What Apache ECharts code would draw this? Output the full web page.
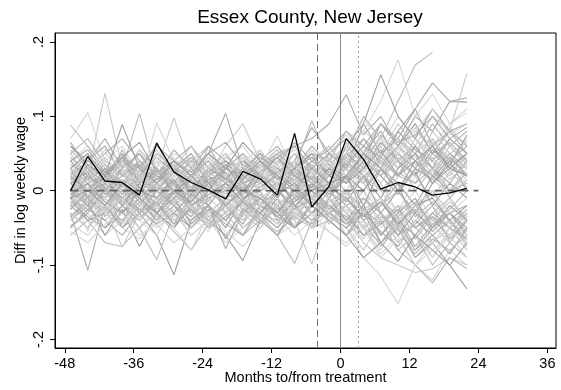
<!DOCTYPE html>
<html>
<head>
<meta charset="utf-8">
<script src="https://cdn.jsdelivr.net/npm/echarts@6/dist/echarts.min.js"></script>
<style>
  html, body { margin: 0; padding: 0; background: #fff; }
  #chart { width: 561px; height: 390px; }
</style>
</head>
<body>
<div id="chart"></div>
<script>
// months relative to treatment (quarterly observations)
var months = [-47, -44, -41, -38, -35, -32, -29, -26, -23, -20, -17, -14,
  -11, -8, -5, -2, 1, 4, 7, 10, 13, 16, 19, 22];

// Essex County, NJ (treated)
var treated = [0, 0.046, 0.013, 0.011, -0.006, 0.064, 0.025, 0.011, 0.001, -0.011,
  0.026, 0.016, -0.006, 0.077, -0.022, 0.006, 0.070, 0.042, 0.002, 0.011,
  0.005, -0.006, -0.003, 0.003];

// placebo counties
var placebos = [
  [0.045, 0.02, 0.131, 0.03, -0.01, 0.04, 0.005, 0.02, -0.015, 0.03, 0.01, -0.02, 0.015, 0.03, -0.01, 0.02, 0.04, 0.01, 0.05, 0.03, 0.06, 0.02, 0.04, 0.03],
  [-0.03, -0.107, -0.02, -0.045, 0.01, -0.03, -0.05, -0.01, -0.035, -0.02, 0.005, -0.04, -0.025, -0.01, -0.03, 0.0, -0.02, -0.05, -0.03, -0.06, -0.045, -0.02, -0.07, -0.04],
  [0.07, 0.105, 0.04, 0.06, 0.02, 0.05, 0.03, 0.045, 0.01, 0.035, 0.02, 0.04, 0.025, 0.05, 0.01, 0.03, 0.06, 0.04, 0.07, 0.05, 0.08, 0.06, 0.09, 0.105],
  [0.02, 0.05, 0.01, 0.03, 0.104, 0.02, 0.04, 0.0, 0.03, 0.015, 0.045, 0.01, 0.03, 0.02, 0.0, 0.025, 0.01, 0.05, 0.02, 0.04, 0.0, 0.03, 0.05, 0.02],
  [-0.01, -0.04, -0.02, -0.05, -0.03, -0.06, -0.113, -0.04, -0.02, -0.05, -0.01, -0.035, -0.06, -0.02, -0.04, -0.03, -0.05, -0.02, -0.07, -0.04, -0.08, -0.05, -0.03, -0.06],
  [0.03, 0.01, 0.04, 0.02, 0.05, 0.03, 0.098, 0.03, 0.05, 0.02, 0.04, 0.01, 0.03, 0.05, 0.02, 0.04, 0.03, 0.06, 0.04, 0.02, 0.05, 0.07, 0.03, 0.05],
  [0.0, 0.02, -0.01, 0.03, 0.01, 0.02, 0.04, 0.02, 0.05, 0.104, 0.03, 0.02, 0.01, 0.04, 0.0, 0.02, 0.03, 0.01, 0.045, 0.02, 0.06, 0.03, 0.01, 0.04],
  [0.04, 0.06, 0.02, 0.05, 0.01, 0.091, 0.04, 0.02, 0.035, 0.01, 0.05, 0.03, 0.02, 0.06, 0.03, 0.01, 0.05, 0.08, 0.06, 0.1, 0.07, 0.05, 0.085, 0.06],
  [-0.02, -0.01, -0.04, -0.02, -0.05, -0.093, -0.03, -0.05, -0.02, -0.04, -0.06, -0.03, -0.05, -0.02, -0.04, -0.01, -0.03, -0.06, -0.04, -0.08, -0.06, -0.1, -0.07, -0.09],
  [0.01, 0.03, 0.0, 0.02, 0.04, 0.01, 0.03, -0.01, 0.02, 0.0, 0.03, 0.05, 0.02, 0.04, 0.085, 0.05, 0.07, 0.04, 0.09, 0.06, 0.1, 0.08, 0.12, 0.119],
  [-0.03, -0.05, -0.02, -0.04, -0.01, -0.03, -0.05, -0.02, -0.04, -0.06, -0.03, -0.05, -0.02, -0.04, -0.099, -0.03, -0.05, -0.08, -0.04, -0.06, -0.03, -0.07, -0.05, -0.08],
  [0.02, 0.0, 0.03, 0.01, 0.04, 0.02, 0.0, 0.03, 0.01, 0.02, 0.04, 0.03, 0.05, 0.06, 0.07, 0.09, 0.129, 0.075, 0.1, 0.06, 0.09, 0.05, 0.08, 0.06],
  [0.0, 0.03, 0.01, -0.01, 0.02, 0.0, 0.03, 0.01, -0.01, 0.02, 0.0, 0.01, 0.03, 0.0, 0.02, 0.04, 0.06, 0.08, 0.12, 0.176, 0.1, 0.13, 0.09, 0.11],
  [0.01, -0.02, 0.02, 0.0, 0.03, -0.01, 0.01, 0.02, 0.0, -0.01, 0.02, 0.01, 0.0, 0.03, 0.01, 0.02, 0.05, 0.1, 0.07, 0.12, 0.169, 0.186, null, null],
  [-0.01, 0.01, 0.02, -0.02, 0.0, 0.02, 0.01, -0.01, 0.02, 0.0, 0.01, -0.02, 0.0, 0.02, 0.03, 0.01, 0.06, 0.09, 0.156, 0.1, 0.07, 0.11, 0.08, 0.09],
  [0.03, 0.0, 0.02, 0.04, 0.01, 0.03, 0.0, 0.02, 0.04, 0.01, 0.0, 0.02, 0.03, 0.01, 0.04, 0.02, 0.03, 0.07, 0.05, 0.09, 0.06, 0.1, 0.08, 0.158],
  [-0.02, 0.0, -0.01, 0.01, -0.03, 0.0, 0.01, -0.02, 0.0, 0.02, -0.01, 0.0, 0.01, -0.01, 0.02, 0.0, 0.02, 0.05, 0.03, 0.08, 0.11, 0.145, 0.12, 0.125],
  [-0.02, -0.04, -0.01, -0.03, -0.05, -0.02, -0.04, -0.01, -0.03, -0.02, -0.05, -0.03, -0.01, -0.04, -0.02, -0.03, -0.05, -0.09, -0.115, -0.152, -0.1, -0.12, -0.08, -0.1],
  [0.01, -0.01, 0.02, 0.0, -0.02, 0.01, -0.01, 0.0, 0.02, -0.01, 0.0, -0.02, 0.01, 0.0, -0.01, 0.0, -0.03, -0.06, -0.04, -0.08, -0.1, -0.124, -0.09, -0.105],
  [-0.04, -0.02, -0.05, -0.03, -0.01, -0.04, -0.02, -0.05, -0.03, -0.01, -0.04, -0.02, -0.03, -0.05, -0.02, -0.04, -0.06, -0.03, -0.07, -0.05, -0.09, -0.07, -0.1, -0.132],
  [-0.01, 0.01, -0.02, 0.0, -0.01, -0.03, 0.0, -0.02, -0.01, -0.03, 0.0, -0.01, -0.02, 0.0, -0.03, -0.02, -0.04, -0.07, -0.09, -0.1, -0.11, -0.105, -0.09, -0.1],
  [0.06, 0.04, 0.07, 0.03, 0.05, 0.02, 0.04, 0.06, 0.03, 0.05, 0.02, 0.04, 0.06, 0.03, 0.05, 0.04, 0.02, 0.05, 0.03, 0.06, 0.04, 0.02, 0.05, 0.03],
  [-0.05, -0.03, -0.06, -0.04, -0.02, -0.05, -0.03, -0.06, -0.04, -0.02, -0.05, -0.03, -0.04, -0.02, -0.05, -0.03, -0.02, -0.04, -0.06, -0.03, -0.05, -0.07, -0.04, -0.06],
  [0.088, 0.06, 0.03, 0.01, 0.02, 0.0, 0.03, 0.02, -0.01, 0.01, 0.03, 0.0, 0.02, 0.01, -0.01, 0.03, 0.02, 0.0, 0.04, 0.02, 0.01, 0.05, 0.03, 0.02],
  [-0.048, -0.03, 0.0, -0.02, -0.04, -0.015, 0.01, -0.03, -0.02, -0.04, -0.01, -0.03, 0.0, -0.02, -0.05, -0.01, 0.02, -0.03, -0.01, -0.04, -0.02, 0.0, -0.03, -0.05],
  [0.015, 0.035, 0.005, 0.045, 0.02, 0.065, 0.01, 0.03, 0.0, 0.04, 0.015, 0.055, 0.02, 0.01, 0.035, 0.005, 0.045, 0.025, 0.06, 0.03, 0.07, 0.04, 0.02, 0.05],
  [-0.02, 0.01, -0.035, -0.01, 0.005, -0.02, -0.045, -0.005, 0.015, -0.03, -0.01, 0.0, -0.04, -0.015, 0.01, -0.025, 0.0, -0.04, -0.02, 0.01, -0.05, -0.03, -0.01, -0.04],
  [0.0, -0.055, 0.02, -0.01, 0.03, -0.02, 0.01, 0.04, -0.01, 0.02, -0.03, 0.01, 0.035, -0.005, 0.02, 0.05, -0.01, 0.03, 0.0, -0.03, 0.02, 0.04, 0.0, 0.03],
  [0.025, 0.0, 0.01, 0.055, 0.015, -0.01, 0.02, 0.0, 0.06, 0.02, -0.005, 0.03, 0.045, 0.01, 0.025, -0.01, 0.035, 0.015, 0.05, 0.07, 0.04, 0.02, 0.06, 0.035],
  [-0.035, -0.015, -0.06, -0.025, -0.075, -0.03, -0.01, -0.045, -0.02, -0.065, -0.025, -0.04, -0.01, -0.05, -0.03, -0.02, -0.045, -0.03, -0.055, -0.075, -0.04, -0.06, -0.085, -0.05],
  [0.05, 0.02, 0.045, 0.01, 0.035, 0.055, 0.02, 0.04, 0.06, 0.015, 0.03, 0.05, 0.005, 0.04, 0.02, 0.03, 0.065, 0.04, 0.025, 0.055, 0.085, 0.05, 0.035, 0.07],
  [-0.01, -0.03, 0.005, -0.05, -0.02, 0.01, -0.015, -0.035, 0.0, -0.02, -0.045, -0.01, -0.03, 0.005, -0.02, -0.04, -0.06, -0.025, -0.045, -0.02, -0.065, -0.035, -0.05, -0.025],
  [0.03, 0.045, 0.06, 0.025, 0.04, 0.02, 0.05, 0.035, 0.015, 0.045, 0.06, 0.03, 0.04, 0.055, 0.025, 0.04, 0.02, 0.045, 0.07, 0.03, 0.05, 0.09, 0.06, 0.04],
  [-0.06, -0.04, -0.07, -0.075, -0.05, -0.03, -0.055, -0.08, -0.045, -0.03, -0.06, -0.04, -0.055, -0.035, -0.05, -0.04, -0.02, -0.05, -0.07, -0.045, -0.08, -0.06, -0.04, -0.07],
  [0.01, 0.025, -0.005, 0.015, 0.0, 0.03, 0.01, -0.01, 0.02, 0.035, 0.0, 0.015, 0.025, 0.005, 0.03, 0.01, 0.02, 0.0, 0.03, 0.01, -0.02, 0.02, 0.0, 0.01],
  [-0.005, 0.015, 0.035, 0.0, -0.02, 0.025, 0.005, 0.045, 0.015, -0.01, 0.02, 0.04, 0.0, 0.025, 0.01, 0.035, 0.055, 0.02, 0.04, 0.0, 0.03, 0.06, 0.025, 0.045],
  [0.02, -0.01, -0.03, 0.01, -0.015, -0.04, 0.0, -0.02, -0.05, -0.01, 0.015, -0.025, -0.045, -0.01, 0.0, -0.03, -0.01, -0.035, -0.015, -0.045, -0.025, -0.055, -0.03, -0.02],
  [0.0, 0.02, -0.01, 0.01, 0.03, 0.0, 0.02, -0.01, 0.01, 0.0, 0.02, 0.03, 0.074, 0.02, 0.05, 0.0, 0.03, -0.02, 0.01, -0.03, 0.0, -0.04, -0.01, 0.02],
  [0.01, -0.02, 0.0, -0.03, -0.01, 0.01, -0.02, 0.0, -0.04, -0.02, -0.05, -0.03, -0.06, -0.098, -0.04, -0.02, 0.0, -0.03, -0.01, -0.05, -0.02, -0.04, -0.06, -0.03],
  [0.02, 0.0, -0.02, 0.01, -0.01, -0.03, -0.05, -0.02, -0.04, -0.06, -0.094, -0.04, -0.02, -0.05, -0.03, -0.01, -0.04, -0.02, -0.06, -0.03, -0.01, -0.05, -0.02, -0.04],
  [0.0, 0.03, 0.01, 0.04, 0.02, 0.0, 0.03, 0.05, 0.02, 0.06, 0.09, 0.04, 0.02, 0.05, 0.03, 0.01, 0.04, 0.06, 0.03, 0.05, 0.02, 0.07, 0.04, 0.06],
  [0.065, 0.03, 0.05, 0.07, 0.04, 0.02, 0.055, 0.03, 0.06, 0.04, 0.025, 0.05, 0.035, 0.065, 0.04, 0.055, 0.08, 0.06, 0.09, 0.065, 0.075, 0.1, 0.07, 0.085],
  [-0.045, -0.06, -0.03, -0.05, -0.065, -0.04, -0.025, -0.06, -0.04, -0.07, -0.05, -0.035, -0.06, -0.045, -0.03, -0.055, -0.075, -0.05, -0.09, -0.065, -0.1, -0.08, -0.06, -0.09],
  [0.005, -0.015, 0.02, -0.005, 0.01, -0.02, 0.0, 0.015, -0.01, 0.005, -0.025, 0.0, 0.01, -0.015, 0.005, -0.01, -0.03, -0.06, -0.035, -0.05, -0.085, -0.06, -0.04, -0.075],
  [0.04, 0.015, 0.03, -0.005, 0.02, 0.045, 0.025, 0.0, 0.03, 0.015, 0.04, 0.02, -0.01, 0.03, 0.045, 0.02, 0.05, 0.03, 0.065, 0.04, 0.02, 0.055, 0.035, 0.075],
  [-0.025, -0.005, -0.02, 0.015, -0.01, -0.035, -0.015, 0.005, -0.03, -0.01, -0.02, -0.045, -0.015, -0.03, 0.0, -0.045, -0.02, -0.01, -0.04, -0.02, -0.03, 0.0, -0.045, -0.025],
  [0.02, 0.04, 0.025, 0.005, 0.035, 0.015, 0.03, 0.05, 0.01, 0.03, 0.02, 0.0, 0.025, 0.04, 0.015, 0.05, 0.03, 0.09, 0.05, 0.07, 0.11, 0.06, 0.08, 0.05],
  [-0.015, 0.005, -0.03, -0.005, -0.025, 0.0, -0.02, -0.04, -0.01, 0.01, -0.02, -0.005, -0.035, 0.0, -0.015, 0.01, -0.02, -0.05, -0.03, -0.07, -0.045, -0.09, -0.06, -0.04],
  [0.055, 0.03, 0.01, 0.04, 0.025, 0.05, 0.03, 0.015, 0.045, 0.02, 0.005, 0.035, 0.05, 0.02, 0.04, 0.06, 0.03, 0.01, 0.045, 0.02, 0.05, 0.03, 0.0, 0.025],
  [0.03, -0.01, 0.02, 0.045, 0.0, 0.015, 0.035, -0.005, 0.025, 0.04, 0.01, 0.02, -0.01, 0.03, 0.015, 0.0, 0.04, 0.02, -0.01, 0.03, 0.05, 0.01, 0.035, 0.02],
  [-0.04, -0.015, -0.03, 0.0, -0.025, -0.045, -0.01, -0.03, 0.005, -0.02, -0.035, -0.01, -0.025, -0.04, -0.005, -0.02, -0.04, -0.065, -0.03, -0.05, -0.02, -0.045, -0.07, -0.035],
  [0.015, 0.04, 0.06, 0.02, 0.035, 0.0, 0.025, 0.045, 0.01, 0.03, 0.05, 0.02, 0.0, 0.03, 0.06, 0.035, 0.015, 0.05, 0.08, 0.04, 0.06, 0.03, 0.07, 0.05],
  [-0.005, -0.03, -0.01, -0.045, -0.02, 0.0, -0.035, -0.015, -0.05, -0.025, -0.005, -0.03, -0.02, 0.005, -0.035, -0.01, -0.03, 0.0, -0.05, -0.025, -0.06, -0.03, -0.01, -0.045],
  [0.05, 0.07, 0.035, 0.02, 0.055, 0.03, 0.01, 0.04, 0.025, 0.05, 0.015, 0.035, 0.055, 0.025, 0.01, 0.04, 0.06, 0.035, 0.075, 0.05, 0.03, 0.065, 0.04, 0.06],
  [-0.025, 0.0, 0.02, -0.015, 0.005, -0.03, -0.01, 0.015, -0.02, 0.01, -0.015, 0.02, 0.0, -0.025, 0.01, -0.005, 0.02, -0.02, 0.03, 0.0, -0.03, 0.01, 0.04, 0.0],
  [0.0, 0.015, -0.02, 0.005, 0.025, 0.01, -0.015, 0.0, 0.02, 0.005, -0.02, 0.01, 0.03, 0.015, -0.01, 0.02, 0.0, 0.035, 0.01, 0.045, 0.02, -0.01, 0.025, 0.005],
  [0.035, 0.02, 0.0, 0.03, 0.05, 0.015, 0.04, 0.025, 0.005, 0.035, 0.02, 0.045, 0.03, 0.01, 0.04, 0.025, 0.045, 0.07, 0.035, 0.06, 0.09, 0.05, 0.065, 0.04],
  [-0.03, -0.05, -0.025, -0.01, -0.04, -0.06, -0.02, -0.035, -0.055, -0.015, -0.04, -0.02, -0.045, -0.03, -0.01, -0.04, -0.025, -0.05, -0.08, -0.04, -0.06, -0.09, -0.05, -0.07],
  [0.01, 0.0, 0.025, 0.01, -0.01, 0.015, 0.03, 0.005, 0.02, -0.005, 0.01, 0.025, 0.0, 0.015, 0.035, 0.01, -0.005, 0.02, 0.0, 0.025, 0.01, 0.03, -0.01, 0.015],
  [-0.01, 0.02, 0.005, -0.02, 0.01, 0.03, 0.0, -0.015, 0.015, 0.025, -0.01, 0.005, 0.02, -0.02, 0.0, 0.01, -0.015, 0.02, -0.03, 0.0, 0.025, -0.02, 0.01, -0.01],
  [0.045, 0.025, 0.055, 0.04, 0.015, 0.05, 0.03, 0.06, 0.02, 0.045, 0.03, 0.01, 0.04, 0.025, 0.055, 0.03, 0.05, 0.02, 0.04, 0.06, 0.03, 0.08, 0.05, 0.065],
  [-0.015, -0.035, -0.05, -0.02, -0.04, -0.01, -0.03, -0.05, -0.025, -0.045, -0.06, -0.02, -0.035, -0.05, -0.015, -0.03, -0.045, -0.02, -0.06, -0.035, -0.075, -0.045, -0.03, -0.055],
  [0.02, 0.01, 0.04, 0.03, 0.0, 0.02, 0.045, 0.015, 0.03, 0.05, 0.025, 0.0, 0.02, 0.04, 0.02, 0.05, 0.075, 0.045, 0.02, 0.05, 0.035, 0.065, 0.045, 0.03],
  [-0.02, -0.005, -0.025, -0.04, -0.015, 0.005, -0.02, -0.035, -0.01, 0.0, -0.025, -0.045, -0.02, -0.005, -0.03, -0.015, 0.0, -0.025, -0.01, -0.035, -0.015, -0.05, -0.025, 0.0],
  [0.06, 0.035, 0.015, 0.045, 0.065, 0.025, 0.04, 0.02, 0.05, 0.03, 0.065, 0.04, 0.015, 0.03, 0.05, 0.02, 0.01, 0.04, 0.02, -0.005, 0.03, 0.015, 0.045, 0.02],
  [0.005, -0.02, 0.01, 0.025, -0.005, -0.025, 0.015, 0.0, -0.015, 0.02, 0.005, -0.02, 0.01, 0.025, -0.01, 0.005, 0.03, 0.01, -0.02, 0.02, 0.04, 0.015, -0.005, 0.025],
  [-0.05, -0.025, -0.04, -0.06, -0.03, -0.015, -0.045, -0.025, -0.05, -0.035, -0.015, -0.04, -0.06, -0.03, -0.045, -0.02, -0.035, -0.06, -0.045, -0.025, -0.05, -0.035, -0.065, -0.04],
  [0.025, 0.05, 0.015, 0.0, 0.03, 0.045, 0.02, 0.035, 0.0, 0.02, 0.04, 0.055, 0.025, 0.01, 0.03, 0.045, 0.02, 0.055, 0.035, 0.07, 0.045, 0.025, 0.06, 0.08],
  [-0.035, -0.01, 0.005, -0.02, -0.04, -0.015, 0.0, -0.025, -0.045, -0.02, 0.005, -0.015, -0.03, -0.01, 0.0, -0.025, -0.01, -0.04, -0.02, 0.0, -0.035, -0.015, -0.04, -0.065],
  [0.0, 0.035, 0.02, 0.05, 0.01, 0.03, -0.005, 0.02, 0.04, 0.015, 0.0, 0.025, 0.045, 0.02, 0.005, 0.03, 0.01, 0.03, 0.055, 0.02, 0.04, 0.01, 0.03, 0.05],
  [0.015, -0.005, -0.025, 0.0, 0.02, -0.01, -0.03, -0.005, 0.01, -0.02, -0.04, -0.01, 0.005, -0.025, -0.01, 0.01, -0.02, 0.0, -0.03, -0.055, -0.025, -0.04, -0.015, -0.035],
  [0.04, 0.055, 0.025, 0.045, 0.03, 0.06, 0.04, 0.025, 0.05, 0.065, 0.035, 0.02, 0.045, 0.06, 0.03, 0.05, 0.035, 0.06, 0.045, 0.08, 0.055, 0.04, 0.07, 0.05],
  [-0.055, -0.07, -0.045, -0.03, -0.06, -0.045, -0.07, -0.05, -0.03, -0.055, -0.075, -0.05, -0.035, -0.06, -0.04, -0.055, -0.07, -0.045, -0.085, -0.06, -0.1, -0.07, -0.05, -0.08],
  [0.01, 0.02, 0.0, -0.01, 0.015, 0.03, 0.01, 0.0, 0.025, 0.01, -0.005, 0.02, 0.01, 0.0, 0.02, -0.005, 0.015, 0.04, 0.02, 0.05, 0.03, 0.06, 0.035, 0.05],
  [-0.005, 0.01, -0.015, -0.03, 0.0, -0.01, 0.015, -0.02, -0.005, 0.01, -0.015, -0.03, -0.005, 0.01, -0.02, 0.005, -0.01, -0.035, -0.015, -0.045, -0.02, -0.01, -0.04, -0.02],
  [0.03, 0.0, 0.015, 0.035, 0.02, 0.005, 0.03, 0.045, 0.015, 0.0, 0.025, 0.04, 0.02, 0.035, 0.01, 0.025, 0.04, 0.015, 0.03, 0.0, 0.025, 0.045, 0.015, 0.035],
  [-0.02, -0.04, -0.03, -0.01, -0.025, -0.045, -0.03, -0.005, -0.02, -0.04, -0.015, -0.03, -0.05, -0.025, -0.01, -0.035, -0.05, -0.03, -0.015, -0.04, -0.06, -0.03, -0.05, -0.065],
  [0.02, 0.03, 0.05, 0.03, 0.01, 0.04, 0.025, 0.01, 0.035, 0.02, 0.045, 0.025, 0.01, 0.035, 0.02, 0.04, 0.06, 0.095, 0.07, 0.05, 0.08, 0.11, 0.075, 0.09],
  [-0.01, -0.025, 0.0, -0.015, -0.035, -0.02, -0.005, -0.025, -0.04, -0.015, -0.03, -0.005, -0.02, -0.035, -0.01, -0.025, -0.06, -0.04, -0.075, -0.05, -0.09, -0.065, -0.08, -0.06],
  [0.03, 0.05, 0.02, 0.089, 0.03, 0.01, 0.04, 0.02, 0.0, 0.03, 0.015, 0.04, 0.02, 0.0, 0.03, 0.01, 0.02, 0.05, 0.03, 0.0, 0.04, 0.06, 0.03, 0.02],
  [-0.03, -0.05, -0.02, -0.076, -0.03, -0.01, -0.04, -0.02, -0.05, -0.03, -0.01, -0.04, -0.02, -0.035, -0.01, -0.03, -0.02, -0.05, -0.03, -0.07, -0.04, -0.02, -0.05, -0.03],
  [0.0, -0.02, 0.01, -0.01, -0.03, 0.0, -0.02, -0.04, -0.02, -0.078, -0.03, -0.01, -0.035, -0.015, 0.0, -0.02, -0.04, -0.01, -0.03, -0.06, -0.03, -0.05, -0.02, -0.04],
  [-0.02, 0.0, -0.03, -0.01, -0.04, -0.02, -0.05, -0.08, -0.03, -0.01, -0.04, -0.02, -0.01, -0.03, -0.05, -0.02, 0.0, -0.03, -0.01, -0.04, -0.02, 0.0, -0.03, -0.01],
  [0.01, 0.03, 0.0, 0.02, 0.01, 0.03, 0.0, 0.02, 0.04, 0.01, 0.03, 0.02, 0.05, 0.03, 0.094, 0.04, 0.08, 0.05, 0.09, 0.07, 0.05, 0.09, 0.06, 0.08],
  [-0.01, 0.0, -0.02, 0.01, -0.01, -0.03, 0.0, -0.015, 0.01, -0.02, 0.0, -0.01, -0.03, 0.0, -0.02, -0.04, -0.06, -0.09, -0.07, -0.095, -0.06, -0.08, -0.1, -0.07]
];

var xTicks = [-48, -36, -24, -12, 0, 12, 24, 36];
var yTicks = [-0.2, -0.1, 0, 0.1, 0.2];
var zeroLine = [-47, 24];       // span of the dashed zero reference
var eventMonths = [-4, 0, 3];   // announcement, treatment, effective

var FONT = "'Liberation Sans', Arial, sans-serif";
var greys = ["#c9c9c9", "#acacac", "#d6d6d6", "#bababa", "#a0a0a0"];

function pairs(ys) {
  return ys.map(function (v, i) {
    return [months[i], v];
  });
}

var series = placebos.map(function (ys, k) {
  return {
    type: "line",
    data: pairs(ys),
    symbol: "none",
    silent: true,
    lineStyle: { color: greys[k % greys.length], width: 1.1 },
    z: 2
  };
});

// event reference lines
series.push({
  type: "line",
  data: [],
  silent: true,
  z: 3,
  markLine: {
    silent: true,
    symbol: "none",
    label: { show: false },
    data: [
      { xAxis: eventMonths[0], lineStyle: { color: "#6e6e6e", type: [7, 4], width: 1 } },
      { xAxis: eventMonths[1], lineStyle: { color: "#8a8a8a", type: "solid", width: 1 } },
      { xAxis: eventMonths[2], lineStyle: { color: "#9a9a9a", type: [2, 3], width: 1 } }
    ]
  }
});

// dashed zero line
series.push({
  type: "line",
  data: zeroLine.map(function (m) { return [m, 0]; }),
  symbol: "none",
  silent: true,
  lineStyle: { color: "#636363", type: [8, 5], width: 1.7 },
  z: 4
});

// treated county
series.push({
  type: "line",
  data: pairs(treated),
  symbol: "none",
  silent: true,
  lineStyle: { color: "#000", width: 1.3 },
  z: 5
});

var chart = echarts.init(document.getElementById("chart"), null, { renderer: "canvas" });
chart.setOption({
  animation: false,
  backgroundColor: "#fff",
  textStyle: { fontFamily: FONT },
  title: {
    text: "Essex County, New Jersey",
    left: 305,
    top: 3,
    textAlign: "center",
    textStyle: { fontFamily: FONT, fontSize: 19, fontWeight: "normal", color: "#000" }
  },
  grid: {
    left: 55, right: 5, top: 33, bottom: 37,
    show: true, borderColor: "#000", borderWidth: 1, backgroundColor: "#fff"
  },
  xAxis: {
    type: "value",
    min: -49.7,
    max: 37.5,
    name: "Months to/from treatment",
    nameLocation: "middle",
    nameGap: 22,
    nameMoveOverlap: false,
    nameTextStyle: { fontFamily: FONT, fontSize: 14.5, color: "#000" },
    axisLine: { show: true, onZero: false, lineStyle: { color: "#000", width: 1 } },
    axisTick: { show: true, length: 5, customValues: xTicks, lineStyle: { color: "#000" } },
    axisLabel: {
      customValues: xTicks, margin: 8,
      fontFamily: FONT, fontSize: 14.5, color: "#000"
    },
    splitLine: { show: false }
  },
  yAxis: {
    type: "value",
    min: -0.2115,
    max: 0.212,
    name: "Diff in log weekly wage",
    nameLocation: "middle",
    nameGap: 27,
    nameMoveOverlap: false,
    nameTextStyle: { fontFamily: FONT, fontSize: 14.5, color: "#000" },
    axisLine: { show: true, onZero: false, lineStyle: { color: "#000", width: 1 } },
    axisTick: { show: true, length: 5, customValues: yTicks, lineStyle: { color: "#000" } },
    axisLabel: {
      customValues: yTicks, rotate: 90, margin: 9,
      fontFamily: FONT, fontSize: 14.5, color: "#000",
      formatter: function (v) {
        if (Math.abs(v) < 1e-9) return "0";
        return v.toFixed(1).replace("0.", ".");
      }
    },
    splitLine: { show: false }
  },
  series: series
});
</script>
</body>
</html>
